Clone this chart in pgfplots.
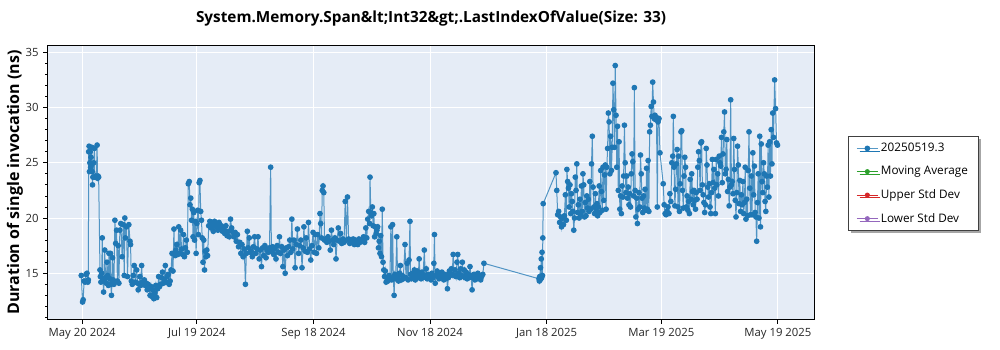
\documentclass[border=0pt]{standalone}
\usepackage{pgfplots}
\pgfplotsset{compat=1.18}
\usepackage{fontspec}
\setmainfont{Open Sans}
\usetikzlibrary{shadows}
\definecolor{sblue}{HTML}{1F77B4}
\definecolor{sgreen}{HTML}{2CA02C}
\definecolor{sred}{HTML}{D62728}
\definecolor{spurple}{HTML}{9467BD}
\definecolor{plotbg}{HTML}{E5ECF6}
\begin{document}
\begin{tikzpicture}
\path[use as bounding box] (0,0) rectangle (750pt,262.5pt);
\begin{axis}[
  at={(36pt,23.25pt)}, anchor=south west,
  scale only axis, width=574.5pt, height=204.75pt,
  axis background/.style={fill=plotbg},
  axis line style={black, line width=0.75pt},
  xmin=-17.9, xmax=382.9, ymin=10.86, ymax=35.57,
  xtick={0,60,121,182,243,303,364},
  xticklabels={May 20 2024,Jul 19 2024,Sep 18 2024,Nov 18 2024,Jan 18 2025,Mar 19 2025,May 19 2025},
  ytick={15,20,25,30,35},
  minor ytick={11,12,13,14,16,17,18,19,21,22,23,24,26,27,28,29,31,32,33,34},
  tick align=outside, tick pos=left,
  major tick length=3.5pt, minor tick length=2pt,
  every tick/.style={black, line width=0.6pt},
  grid=major, major grid style={white, line width=0.75pt},
  /pgf/number format/assume math mode=true,
  tick label style={font=\fontsize{8.5}{10}\selectfont, text=black!85},
  title={System.Memory.Span\&lt;Int32\&gt;.LastIndexOfValue(Size: 33)},
  every axis title/.style={at={(axis description cs:0.5,1.1026)}, anchor=center, font=\fontsize{11.5}{13}\selectfont\bfseries},
  ylabel={Duration of single invocation (ns)},
  every axis y label/.style={at={(axis description cs:-0.0431,0.5)}, rotate=90, anchor=center, font=\fontsize{12}{14}\selectfont\bfseries},
  legend style={at={(axis description cs:1.0444,0.670)}, anchor=north west,
    draw=black!75, fill=white, line width=0.6pt,
    drop shadow={shadow xshift=2pt, shadow yshift=-2pt, fill=black!35, opacity=1},
    font=\fontsize{8.8}{10}\selectfont, row sep=5.5pt,
    inner xsep=6pt, inner ysep=3pt},
  legend cell align=left,
  legend image code/.code={
    \draw[#1, mark=none] (0cm,0cm) -- (0.55cm,0cm);
    \draw[#1, only marks] plot coordinates {(0.275cm,0cm)};
  },
]
\addplot[sblue, draw opacity=0.75, line width=0.75pt, mark=*, mark size=1.75pt, mark options={fill=sblue, draw=sblue, draw opacity=1, fill opacity=1}] table {
x y
-0.5 14.8
0.2 12.4
0.5 12.6
1.0 14.3
1.5 14.2
2.0 14.9
2.5 15.0
3.0 14.2
3.2 14.4
3.4 26.0
3.6 26.5
3.8 24.2
4.0 25.0
4.2 26.0
4.4 24.6
4.6 25.5
4.8 24.8
5.0 26.4
5.2 24.2
5.4 23.0
5.6 23.7
6.0 25.0
6.4 26.3
6.6 23.7
7.0 23.8
7.4 23.7
7.8 26.6
8.0 23.6
8.3 23.8
8.6 23.7
9.3 15.3
9.5 14.7
9.8 14.2
10.2 15.0
10.5 18.2
10.8 14.5
11.2 13.3
11.5 14.3
11.8 17.1
12.2 14.6
12.6 14.1
13.0 16.0
13.3 14.8
13.7 13.9
14.0 16.8
14.4 14.5
14.8 16.8
15.0 14.0
15.3 13.0
15.6 14.2
15.9 16.4
16.2 14.4
16.6 14.0
17.1 19.8
17.5 17.7
18.0 18.9
18.4 14.3
18.8 17.5
19.2 14.1
19.7 18.9
20.2 19.5
20.9 16.5
21.5 19.4
22.0 14.8
22.3 20.0
22.6 18.2
23.2 19.2
23.7 14.7
24.4 19.4
25.0 17.9
25.3 17.6
25.7 14.3
26.2 14.0
26.7 14.8
27.2 15.7
27.8 14.2
28.5 15.3
29.0 14.1
29.3 13.5
30.2 14.7
30.6 13.9
31.1 15.7
31.5 14.2
32.0 14.0
32.5 14.4
33.0 13.9
33.5 14.1
34.0 13.5
34.5 14.0
35.0 13.6
35.5 13.0
36.0 13.8
36.5 12.9
37.0 13.5
37.5 12.7
38.0 13.2
38.5 13.9
39.0 12.8
39.5 13.6
40.0 14.7
40.5 13.8
41.0 14.0
41.5 14.6
42.0 15.1
42.5 14.1
43.0 14.4
43.5 15.7
44.0 14.2
44.5 14.7
45.0 14.9
45.5 14.0
46.0 14.3
46.5 15.3
47.0 16.8
47.5 15.2
48.0 19.0
48.3 16.8
48.7 16.6
49.0 17.1
49.5 17.6
50.0 16.7
50.5 19.2
51.0 16.8
51.5 18.9
52.0 17.2
52.5 16.7
53.0 18.5
53.5 16.5
54.0 17.3
54.5 18.0
55.0 16.9
55.5 23.1
56.0 23.3
56.4 21.2
56.8 21.8
57.2 19.8
57.6 20.8
58.0 18.3
58.4 20.5
58.8 18.0
59.2 19.7
59.6 16.8
60.0 19.5
60.4 20.7
60.8 18.5
61.2 23.2
61.6 23.4
62.0 20.6
62.4 19.8
62.8 18.2
63.2 16.0
63.6 18.0
64.0 15.3
64.4 17.0
64.8 16.5
65.2 17.1
65.6 16.6
66.2 19.3
66.8 19.7
67.4 19.1
68.0 19.5
68.6 18.8
69.2 19.7
69.8 19.2
70.4 19.4
71.0 18.9
71.6 19.6
72.2 19.1
72.8 19.3
73.4 18.8
74.0 19.0
74.6 18.6
75.2 19.3
75.8 18.4
76.4 18.8
77.0 18.3
77.6 19.9
78.2 19.1
78.8 18.7
79.4 18.3
80.0 18.7
80.6 17.9
81.2 18.5
81.8 17.4
82.4 17.8
83.0 16.8
83.6 17.6
84.2 16.5
84.8 17.2
85.4 14.0
85.9 16.8
86.4 18.8
86.9 17.3
87.4 18.2
87.9 16.9
88.4 17.0
89.0 16.5
89.6 17.4
90.2 18.3
90.8 16.8
91.4 17.2
92.0 18.3
92.6 16.3
93.2 17.1
93.8 15.6
94.4 17.3
95.0 16.6
95.6 17.5
96.2 16.4
96.8 17.1
97.4 16.9
98.0 17.3
98.6 24.6
99.0 17.0
99.6 17.4
100.2 16.7
100.8 17.2
101.4 16.3
102.0 17.5
102.6 16.9
103.2 18.3
103.8 16.8
104.4 17.4
105.0 15.6
105.6 17.1
106.2 15.0
106.8 17.3
107.4 16.6
108.0 17.4
108.6 18.0
109.2 16.9
109.7 19.9
110.2 17.2
110.8 18.0
111.4 15.5
112.0 17.6
112.6 19.0
113.2 16.8
113.8 17.5
114.4 18.0
115.0 15.5
115.6 17.3
116.0 19.2
116.6 17.0
117.2 18.2
117.8 16.9
118.4 19.6
119.0 17.2
119.6 16.2
120.2 17.5
120.8 18.7
121.4 16.9
122.0 18.5
122.6 16.8
123.2 18.5
123.8 17.3
124.4 20.4
124.8 19.5
125.2 18.2
125.6 22.5
126.0 22.9
126.4 22.3
126.8 18.0
127.4 18.1
128.0 17.8
128.6 18.3
129.2 17.9
129.8 17.1
130.4 18.9
131.0 18.0
131.6 17.6
132.2 18.2
132.8 16.3
133.4 18.0
134.0 19.1
134.6 17.9
135.2 18.6
135.8 17.7
136.4 18.1
137.0 17.8
137.6 21.5
138.2 18.0
138.8 21.9
139.4 18.1
140.0 17.7
140.6 18.0
141.2 17.8
141.8 18.1
142.4 17.6
143.0 18.0
143.6 17.9
144.2 17.6
144.8 18.1
145.4 17.8
146.0 18.0
146.6 17.9
147.2 18.3
147.8 17.8
148.4 19.1
148.9 18.2
149.4 19.9
149.9 20.6
150.4 19.5
150.6 23.7
151.0 20.5
151.4 20.2
151.8 21.0
152.2 19.3
152.6 20.4
153.0 18.3
153.4 19.2
153.8 18.6
154.2 18.9
154.6 19.2
155.0 17.3
155.4 17.9
155.8 16.8
156.2 18.4
156.6 16.5
157.0 20.8
157.4 16.0
157.8 15.3
158.2 14.7
158.6 15.2
159.0 14.2
159.5 14.6
160.0 14.3
160.5 14.8
161.0 14.5
161.5 19.2
162.0 14.4
162.4 19.4
162.8 14.6
163.2 13.0
163.6 14.9
164.0 14.5
164.6 18.3
165.0 14.7
165.5 14.3
166.0 15.0
166.5 15.7
167.0 14.4
167.5 14.8
168.0 14.5
168.9 17.6
169.4 14.6
170.0 15.9
170.5 14.4
171.0 16.2
171.5 19.7
171.8 14.9
172.3 14.5
172.8 15.0
173.3 14.7
173.8 15.3
174.3 14.4
174.8 14.8
175.3 15.2
175.8 14.6
176.3 16.3
176.8 14.9
177.3 14.5
177.8 15.1
178.3 14.6
179.0 17.1
179.5 14.8
180.0 15.4
180.5 14.5
181.0 14.9
181.5 14.6
182.0 14.8
182.5 14.4
183.0 15.0
183.5 14.6
184.0 15.9
184.3 18.5
184.7 14.1
185.2 14.8
185.7 15.2
186.2 14.7
186.7 14.5
187.2 15.0
187.7 14.6
188.2 15.1
188.7 14.7
189.2 14.4
189.7 14.9
190.2 14.5
190.7 14.8
191.1 13.6
191.6 14.6
192.1 15.2
192.6 14.8
193.1 15.4
193.6 14.9
194.1 16.7
194.6 14.8
195.1 15.3
195.6 14.7
196.1 16.0
196.5 16.7
197.0 15.0
197.5 14.6
198.0 15.4
198.5 14.8
198.9 16.0
199.4 14.7
199.9 15.3
200.4 14.6
200.9 15.1
201.4 14.5
201.9 14.9
202.4 14.6
202.9 15.6
203.4 14.8
204.0 13.5
204.5 14.6
205.0 14.9
205.5 14.4
206.0 14.8
206.5 14.5
207.0 15.0
207.5 14.6
208.0 14.8
208.5 14.4
209.0 14.7
209.6 14.9
210.2 15.9
239.0 14.5
239.2 14.3
239.4 14.7
239.6 14.4
239.8 15.5
240.0 14.5
240.2 16.3
240.4 14.6
240.6 16.9
240.8 14.8
241.0 18.2
241.2 21.3
247.9 24.1
248.3 22.5
248.8 20.3
249.3 20.6
249.8 19.6
250.3 20.1
250.8 19.2
251.3 20.0
251.8 19.4
252.3 20.2
252.8 22.1
253.3 19.8
253.6 24.4
254.0 23.3
254.4 22.7
254.8 21.0
255.2 23.0
255.6 20.4
256.0 22.2
256.4 21.5
256.8 20.6
257.2 18.9
257.6 20.0
258.0 23.7
258.4 22.5
258.8 24.9
259.2 20.5
259.6 21.2
260.0 20.0
260.4 21.7
260.8 20.3
261.2 22.9
261.6 20.6
262.0 24.0
262.4 23.0
262.8 20.1
263.2 21.4
263.6 20.2
264.0 22.0
264.4 20.9
264.8 21.7
265.2 20.6
265.6 23.3
266.0 20.8
266.5 24.9
266.9 27.4
267.3 22.8
267.7 21.0
268.1 20.4
268.5 22.2
268.9 20.6
269.3 21.3
269.7 20.2
270.1 21.0
270.5 22.9
270.9 20.5
271.3 24.3
271.7 22.4
272.1 20.7
272.5 24.6
272.9 21.6
273.3 23.9
273.7 24.8
274.1 20.8
274.5 24.6
274.9 26.3
275.3 29.5
275.7 28.7
276.1 24.0
276.5 27.4
276.9 24.3
277.3 26.4
277.7 32.2
278.1 29.8
278.5 26.4
278.9 33.8
279.3 29.3
279.7 24.6
280.1 28.3
280.5 22.5
280.9 26.9
281.3 20.8
281.7 22.0
282.1 20.4
282.5 22.9
282.9 21.9
283.3 23.8
283.7 28.4
284.1 25.0
284.5 22.3
284.9 23.8
285.3 21.8
285.7 22.8
286.1 21.2
286.5 22.2
286.9 21.0
287.3 24.0
287.7 25.8
288.1 25.1
288.5 22.0
288.9 31.8
289.3 22.5
289.7 20.1
290.1 21.8
290.5 19.5
290.9 20.8
291.3 22.3
291.7 21.0
292.1 25.7
292.5 24.0
292.9 21.8
293.3 20.5
293.7 22.0
294.1 20.9
294.5 22.6
294.9 20.7
295.3 24.5
295.7 20.8
296.1 25.2
296.5 20.6
296.9 27.8
297.3 28.4
297.7 30.1
298.1 29.2
298.5 32.3
298.9 30.5
299.3 29.0
299.7 29.3
300.1 28.9
300.5 29.1
300.9 21.0
301.3 28.7
301.8 29.0
302.3 25.9
304.0 23.1
304.5 21.2
305.0 20.4
305.5 20.3
306.0 20.6
306.5 21.0
307.0 20.4
307.5 22.2
308.0 21.5
308.5 25.0
309.0 25.6
309.3 29.2
309.7 24.6
310.1 21.1
310.5 22.6
310.9 24.9
311.3 26.2
311.7 21.0
312.1 25.6
312.5 20.6
312.9 23.1
313.3 27.8
313.7 27.9
314.1 22.5
314.5 20.9
314.9 23.8
315.3 25.5
315.7 24.6
316.1 21.0
316.5 22.0
316.9 20.7
317.3 21.5
317.7 20.4
318.1 23.5
318.5 21.7
318.9 24.0
319.3 22.4
319.7 21.2
320.1 22.5
320.5 21.6
320.9 20.8
321.3 22.3
321.7 21.7
322.1 24.6
322.5 26.0
322.9 25.2
323.3 22.5
323.7 26.8
324.1 26.9
324.5 23.0
324.9 22.1
325.3 21.4
325.7 20.5
326.1 21.2
326.5 26.3
326.9 24.8
327.3 22.8
327.7 21.9
328.1 23.1
328.5 21.0
328.9 20.4
329.3 22.3
329.7 25.3
330.1 23.2
330.5 24.4
330.9 22.7
331.3 20.4
331.7 25.3
332.1 23.0
332.5 24.0
332.9 22.0
333.3 25.6
333.7 25.0
334.1 24.7
334.5 27.3
334.9 23.2
335.3 25.8
335.7 27.8
336.1 29.6
336.5 24.0
336.9 24.4
337.3 27.1
337.7 22.4
338.1 23.5
338.5 21.1
338.9 22.8
339.3 30.7
339.7 23.0
340.1 23.3
340.5 22.2
340.9 27.2
341.3 24.4
341.7 21.6
342.1 20.1
342.5 22.3
342.9 26.5
343.3 24.8
343.7 21.3
344.1 23.4
344.5 20.6
344.9 22.1
345.3 21.2
345.7 23.3
346.1 20.4
346.5 21.4
346.9 24.6
347.3 19.9
347.7 21.7
348.1 20.2
348.5 24.3
348.9 27.8
349.3 22.7
349.7 20.3
350.1 23.8
350.5 20.3
350.9 25.9
351.3 22.1
351.7 24.7
352.1 20.5
352.5 20.1
352.9 17.9
353.3 21.4
353.7 24.0
354.1 20.0
354.5 27.4
354.9 19.2
355.3 26.7
355.7 23.3
356.1 22.3
356.5 25.0
356.9 24.0
357.3 21.5
357.7 20.6
358.1 23.8
358.5 22.8
358.9 26.6
359.3 21.9
359.7 26.9
360.1 23.8
360.5 28.0
360.9 24.9
361.3 29.5
361.7 27.3
362.3 32.5
362.8 29.9
363.3 26.8
363.8 26.6
};
\addlegendentry{20250519.3}
\addlegendimage{sgreen, line width=0.75pt, mark=*, mark size=1.5pt}
\addlegendentry{Moving Average}
\addlegendimage{sred, line width=0.75pt, mark=*, mark size=1.5pt}
\addlegendentry{Upper Std Dev}
\addlegendimage{spurple, line width=0.75pt, mark=*, mark size=1.5pt}
\addlegendentry{Lower Std Dev}
\end{axis}
\end{tikzpicture}
\end{document}
